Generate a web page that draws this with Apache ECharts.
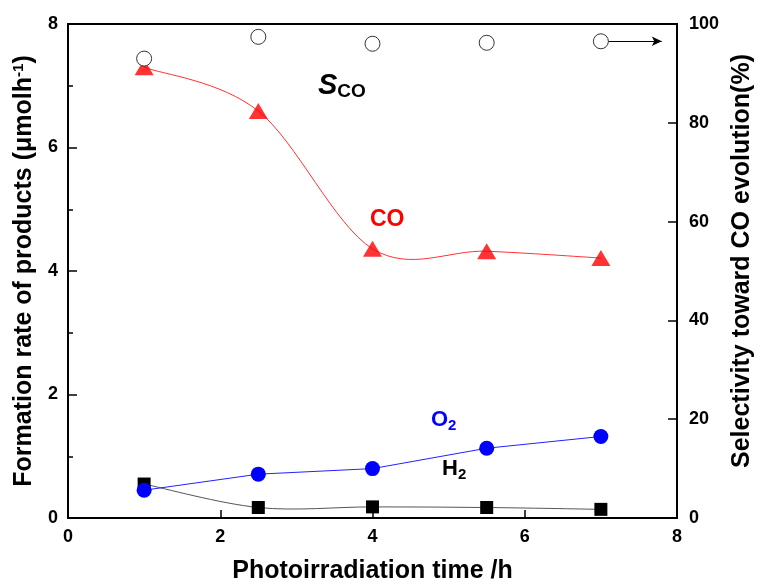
<!DOCTYPE html>
<html><head><meta charset="utf-8">
<script src="https://cdn.jsdelivr.net/npm/echarts@6/dist/echarts.min.js"></script>
<style>html,body{margin:0;padding:0;background:#fff}#c{width:757px;height:585px}</style>
</head><body><div id="c"></div>
<script>
var times = [1, 2.5, 4, 5.5, 7];
var coRate = [7.30, 6.59, 4.36, 4.32, 4.21];
var o2Rate = [0.45, 0.71, 0.80, 1.13, 1.32];
var h2Rate = [0.55, 0.17, 0.18, 0.17, 0.14];
var coSelectivity = [93.0, 97.4, 96.0, 96.2, 96.5];
var xTicks = [0, 2, 4, 6, 8];
var leftTicks = [0, 2, 4, 6, 8];
var rightTicks = [0, 20, 40, 60, 80, 100];

function pairs(xs, ys){ return xs.map(function(x,i){ return [x, ys[i]]; }); }

// Catmull-Rom spline drawn through the axis scales (api.coord)
function splineSeries(name, data, color){
  return {
    name:name, type:'custom', data:data, z:2, silent:true,
    renderItem:function(params, api){
      if (params.dataIndex !== 0) return null;
      var p = data.map(function(d){ return api.coord(d); });
      var n = p.length, children = [];
      for (var i = 0; i < n - 1; i++){
        var p0 = p[Math.max(i-1,0)], p1 = p[i], p2 = p[i+1], p3 = p[Math.min(i+2,n-1)];
        children.push({type:'bezierCurve', shape:{
          x1:p1[0], y1:p1[1], x2:p2[0], y2:p2[1],
          cpx1:p1[0] + (p2[0]-p0[0])/6, cpy1:p1[1] + (p2[1]-p0[1])/6,
          cpx2:p2[0] - (p3[0]-p1[0])/6, cpy2:p2[1] - (p3[1]-p1[1])/6},
          style:{stroke:color, fill:'none', lineWidth:1}});
      }
      return {type:'group', children:children};
    }
  };
}

var FONT = '"Liberation Sans", Arial, sans-serif';
var chart = echarts.init(document.getElementById('c'), null, {renderer:'canvas'});
chart.setOption({
  backgroundColor:'#fff',
  animation:false,
  grid:{left:68, right:80, top:24, bottom:67, containLabel:false, outerBoundsMode:'none',
        show:true, borderColor:'#000', borderWidth:2, backgroundColor:'transparent'},
  xAxis:{type:'value', min:xTicks[0], max:xTicks[xTicks.length-1], interval:2,
    name:'Photoirradiation time /h', nameLocation:'middle', nameGap:41,
    nameTextStyle:{fontFamily:FONT, fontWeight:'bold', fontSize:25, color:'#000'},
    axisLine:{show:true, lineStyle:{color:'#000', width:2}},
    axisTick:{show:true, inside:true, length:8, lineStyle:{color:'#000', width:1.5}},
    axisLabel:{fontFamily:FONT, fontWeight:'bold', fontSize:18, color:'#000', margin:10},
    splitLine:{show:false}},
  yAxis:[
    {type:'value', min:leftTicks[0], max:leftTicks[leftTicks.length-1], interval:2,
     name:'Formation rate of products (μmolh{sup|-1})', nameLocation:'middle', nameGap:26, nameRotate:90,
     nameTextStyle:{fontFamily:FONT, fontWeight:'bold', fontSize:25, color:'#000',
       rich:{sup:{fontFamily:FONT, fontWeight:'bold', fontSize:15, color:'#000', verticalAlign:'top', padding:[0,0,12,0]}}},
     axisLine:{show:true, lineStyle:{color:'#000', width:2}},
     axisTick:{show:true, inside:true, length:9, lineStyle:{color:'#000', width:1.5}},
     minorTick:{show:true, splitNumber:2, length:5, lineStyle:{color:'#000', width:1.5}},
     axisLabel:{fontFamily:FONT, fontWeight:'bold', fontSize:18, color:'#000', margin:10},
     splitLine:{show:false}},
    {type:'value', min:rightTicks[0], max:rightTicks[rightTicks.length-1], interval:20, position:'right',
     name:'Selectivity toward CO evolution(%)', nameLocation:'middle', nameGap:52, nameRotate:90,
     nameTextStyle:{fontFamily:FONT, fontWeight:'bold', fontSize:25, color:'#000', padding:[0,0,0,20]},
     axisLine:{show:true, lineStyle:{color:'#000', width:2}},
     axisTick:{show:true, inside:true, length:9, lineStyle:{color:'#000', width:1.5}},
     axisLabel:{fontFamily:FONT, fontWeight:'bold', fontSize:18, color:'#000', margin:12},
     splitLine:{show:false}}
  ],
  series:[
    splineSeries('CO line', pairs(times, coRate), '#ff3333'),
    splineSeries('H2 line', pairs(times, h2Rate), '#555555'),
    {name:'CO', type:'scatter', data:pairs(times, coRate), symbol:'triangle', symbolSize:[19,16],
     itemStyle:{color:'#ff0000'}, z:3},
    {name:'H2', type:'scatter', data:pairs(times, h2Rate), symbol:'rect', symbolSize:13,
     itemStyle:{color:'#000', opacity:1}, z:3},
    {name:'O2', type:'line', data:pairs(times, o2Rate), symbol:'circle', symbolSize:15,
     itemStyle:{color:'#0000ff'}, lineStyle:{color:'#2222ff', width:1}, z:4},
    {name:'SCO', type:'scatter', yAxisIndex:1, data:pairs(times, coSelectivity), symbol:'circle', symbolSize:15,
     itemStyle:{color:'#fff', borderColor:'#333', borderWidth:1, opacity:1}, z:5,
     markLine:{silent:true, symbol:['none','arrow'], symbolSize:[7,10], label:{show:false},
       lineStyle:{color:'#000', width:1, type:'solid'},
       data:[[{coord:[times[4], coSelectivity[4]]},{coord:[7.8, coSelectivity[4]]}]]}}
  ],
  graphic:[
    {type:'text', left:318, top:71, style:{rich:{s:{fontFamily:FONT, fontWeight:'bold', fontStyle:'italic', fontSize:29, fill:'#000'}, sub:{fontFamily:FONT, fontWeight:'bold', fontSize:19, fill:'#000', padding:[13,0,0,0]}}, text:'{s|S}{sub|CO}'}},
    {type:'text', left:370, top:208, style:{text:'CO', fontFamily:FONT, fontWeight:'bold', fontSize:23, fill:'#ff0000'}},
    {type:'text', left:431, top:409, style:{rich:{b:{fontFamily:FONT, fontWeight:'bold', fontSize:22, fill:'#0000ff'}, s:{fontFamily:FONT, fontWeight:'bold', fontSize:15, fill:'#0000ff', padding:[12,0,0,0]}}, text:'{b|O}{s|2}'}},
    {type:'text', left:442, top:458, style:{rich:{b:{fontFamily:FONT, fontWeight:'bold', fontSize:22, fill:'#000'}, s:{fontFamily:FONT, fontWeight:'bold', fontSize:15, fill:'#000', padding:[12,0,0,0]}}, text:'{b|H}{s|2}'}}
  ]
});
</script></body></html>
